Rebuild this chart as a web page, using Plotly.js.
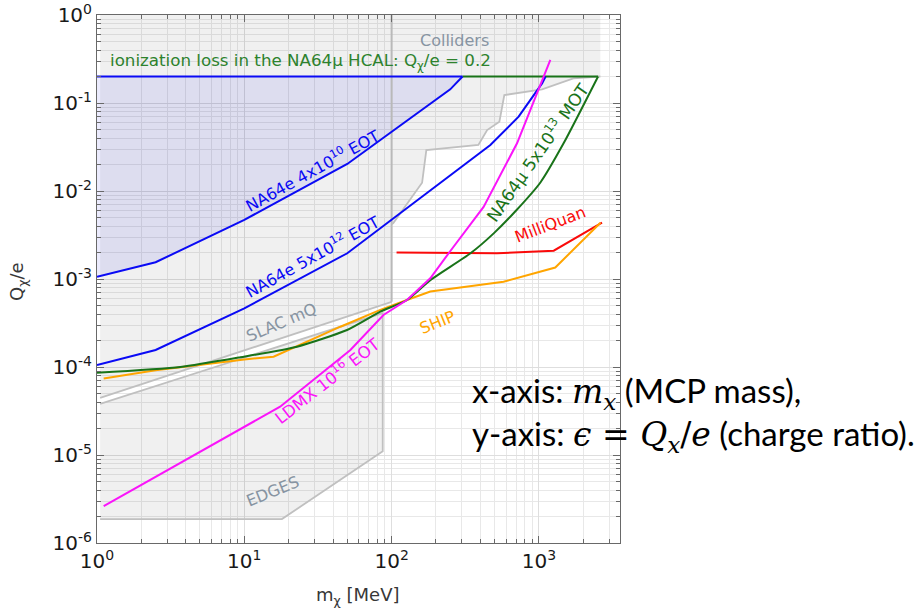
<!DOCTYPE html>
<html><head><meta charset="utf-8">
<script src="https://cdn.plot.ly/plotly-3.0.1.min.js"></script>
<style>html,body{margin:0;padding:0;background:#fff;}#chart{width:922px;height:611px;}</style>
</head><body><div id="chart"></div>
<script>
// ---------- data ----------
// NA64e 4x10^10 EOT
const massNA64e4 = [1, 2.5, 10, 50, 250, 303];
const qNA64e4    = [1.06e-3, 1.55e-3, 4.7e-3, 0.0203, 0.143, 0.2];
// NA64e 5x10^12 EOT
const massNA64e5 = [1, 2.5, 10, 50, 468, 728, 1050, 1110];
const qNA64e5    = [1.05e-4, 1.56e-4, 4.64e-4, 1.96e-3, 0.0333, 0.07, 0.167, 0.2];
// NA64mu 5x10^13 MOT
const massNA64mu = [1, 3.68, 9.4, 22.8, 49.8, 83.8, 127, 183, 343, 493, 700, 1023, 1470, 2520];
const qNA64mu    = [8.6e-5, 1.0e-4, 1.29e-4, 1.70e-4, 2.63e-4, 4.25e-4, 5.77e-4, 9.7e-4, 1.96e-3, 3.3e-3, 6.0e-3, 0.0125, 0.0348, 0.2];
// LDMX 10^16 EOT
const massLDMX = [1.11, 6.7, 17.5, 52.5, 88, 127, 183, 246, 421, 710, 970, 1195];
const qLDMX    = [2.63e-6, 1.42e-5, 3.54e-5, 1.56e-4, 3.9e-4, 5.77e-4, 1.02e-3, 2.0e-3, 6.6e-3, 0.0348, 0.129, 0.31];
// MilliQuan
const massMQ = [108, 519, 1260, 2680];
const qMQ    = [2.0e-3, 1.96e-3, 2.1e-3, 4.36e-3];
// SHIP
const massSHIP = [1.11, 2.5, 10, 15.8, 44.9, 83.8, 127, 183, 575, 1291, 2617];
const qSHIP    = [7.4e-5, 9.2e-5, 1.22e-4, 1.31e-4, 2.87e-4, 4.45e-4, 5.77e-4, 7.2e-4, 9.3e-4, 1.35e-3, 4.36e-3];
// ionization-loss level
const qIon = 0.2;
const massIonStart = 1, massIonEnd = 2520;
// SLAC mQ band edges
const massSlacUp = [1.05, 100];   const qSlacUp = [4.45e-5, 5.5e-4];
const massSlacLo = [1.05, 87];    const qSlacLo = [3.8e-5, 4.1e-4];
// EDGES lower boundary (continuing from SLAC lower edge end)
const massEdges = [87, 87, 18, 1.05];
const qEdges    = [4.1e-4, 1.1e-5, 1.87e-6, 1.87e-6];
// Colliders lower boundary
const massColl = [100, 102.7, 161, 172, 388, 445, 539, 582, 1050, 1713, 2612];
const qColl    = [4.2e-3, 4.33e-3, 0.0124, 0.0292, 0.0333, 0.0493, 0.0613, 0.123, 0.143, 0.19, 0.2];
const qTop = 1;
// axis ticks
const xTickVals = [1, 10, 100, 1000];
const xTickText = ['10<sup>0</sup>','10<sup>1</sup>','10<sup>2</sup>','10<sup>3</sup>'];
const yTickVals = [1e-6, 1e-5, 1e-4, 1e-3, 1e-2, 1e-1, 1];
const yTickText = ['10<sup>-6</sup>','10<sup>-5</sup>','10<sup>-4</sup>','10<sup>-3</sup>','10<sup>-2</sup>','10<sup>-1</sup>','10<sup>0</sup>'];

function minorVals(lo, hi){ const v=[]; for(let e=lo;e<=hi;e++){ for(let m=2;m<=9;m++) v.push(m*Math.pow(10,e)); } return v; }

// ---------- styles ----------
const GRAYFILL = 'rgba(0,0,0,0.06)';
const GRAYLINE = 'rgb(192,192,192)';
const BLUE = 'rgb(10,10,245)';
const GREEN = 'rgb(25,115,25)';
const GREENTXT = 'rgb(45,130,45)';
const MAG = 'rgb(250,20,250)';
const RED = 'rgb(250,10,10)';
const ORANGE = 'rgb(255,165,0)';
const SLATE = 'rgb(135,148,162)';

const traces = [];
const noLine = {width:0,color:'rgba(0,0,0,0)'};
traces.push({x: massSlacUp.concat([massSlacUp[1], massSlacUp[0]]), y: qSlacUp.concat([qTop, qTop]),
  fill:'toself', fillcolor:GRAYFILL, mode:'lines', line:noLine, hoverinfo:'skip'});
traces.push({x: massColl.concat([massColl[massColl.length-1], massColl[0]]), y: qColl.concat([qTop, qTop]),
  fill:'toself', fillcolor:GRAYFILL, mode:'lines', line:noLine, hoverinfo:'skip'});
traces.push({x: massSlacLo.concat(massEdges.slice(1)), y: qSlacLo.concat(qEdges.slice(1)),
  fill:'toself', fillcolor:GRAYFILL, mode:'lines', line:noLine, hoverinfo:'skip'});
traces.push({x: massNA64e4.concat([massIonStart]), y: qNA64e4.concat([qIon]),
  fill:'toself', fillcolor:'rgba(20,20,230,0.085)', mode:'lines', line:noLine, hoverinfo:'skip'});

traces.push({x: massSlacUp, y: qSlacUp, mode:'lines', line:{color:GRAYLINE, width:1.8}, hoverinfo:'skip'});
traces.push({x: massSlacLo.concat(massEdges.slice(1)), y: qSlacLo.concat(qEdges.slice(1)), mode:'lines', line:{color:GRAYLINE, width:1.8}, hoverinfo:'skip'});
traces.push({x: [massSlacUp[1], massSlacUp[1]], y: [qSlacUp[1], qTop], mode:'lines', line:{color:'rgb(185,185,185)', width:2}, hoverinfo:'skip'});
traces.push({x: massColl, y: qColl, mode:'lines', line:{color:GRAYLINE, width:1.8}, hoverinfo:'skip'});

traces.push({x: [massIonStart, massNA64e4[massNA64e4.length-1]], y: [qIon, qIon], mode:'lines', line:{color:BLUE, width:2}, hoverinfo:'skip'});
traces.push({x: [massNA64e4[massNA64e4.length-1], massIonEnd], y: [qIon, qIon], mode:'lines', line:{color:GREEN, width:2}, hoverinfo:'skip'});

traces.push({x: massNA64e4, y: qNA64e4, mode:'lines', line:{color:BLUE, width:2}, hoverinfo:'skip'});
traces.push({x: massNA64e5, y: qNA64e5, mode:'lines', line:{color:BLUE, width:2}, hoverinfo:'skip'});
traces.push({x: massMQ, y: qMQ, mode:'lines', line:{color:RED, width:2}, hoverinfo:'skip'});
traces.push({x: massSHIP, y: qSHIP, mode:'lines', line:{color:ORANGE, width:2}, hoverinfo:'skip'});
traces.push({x: massNA64mu, y: qNA64mu, mode:'lines', line:{color:GREEN, width:2, shape:'spline', smoothing:0.6}, hoverinfo:'skip'});
traces.push({x: massLDMX, y: qLDMX, mode:'lines', line:{color:MAG, width:2}, hoverinfo:'skip'});

// ---------- layout ----------
const L=97, R=620, T=15, B=543, W=R-L, H=B-T;
function ann(px, py, text, color, size, angle, extra){
  return Object.assign({xref:'paper', yref:'paper', x:(px-L)/W, y:(B-py)/H, text:text, showarrow:false,
    textangle:angle||0, xanchor:'center', yanchor:'middle', font:{family:'DejaVu Sans', size:size, color:color}}, extra||{});
}
const FS = 16;
const annotations = [
  ann(108, 62, 'ionization loss in the NA64μ HCAL: Q<sub>χ</sub>/e = 0.2', GREENTXT, 16.7, 0, {xanchor:'left'}),
  ann(454, 41, 'Colliders', SLATE, 16, 0),
  ann(312, 170, 'NA64e 4x10<sup>10</sup> EOT', BLUE, FS, -29),
  ann(312, 256, 'NA64e 5x10<sup>12</sup> EOT', BLUE, FS, -29),
  ann(281, 322, 'SLAC mQ', SLATE, FS, -23),
  ann(327, 380, 'LDMX 10<sup>16</sup> EOT', MAG, 16.5, -38),
  ann(272, 491, 'EDGES', SLATE, FS, -22),
  ann(437, 322, 'SHIP', ORANGE, FS, -22),
  ann(550, 224, 'MilliQuan', RED, FS, -21),
  ann(537, 152, 'NA64μ 5x10<sup>13</sup> MOT', GREEN, 17, -55),
  ann(358, 596, 'm<sub>χ</sub> [MeV]', 'rgb(55,55,55)', 18, 0),
  ann(18, 282, 'Q<sub>χ</sub>/e', 'rgb(55,55,55)', 18, -90),
  {xref:'paper', yref:'paper', x:(470-L)/W, y:(B-393)/H, xanchor:'left', yanchor:'middle', showarrow:false,
   text:'x-axis: <span style="font-family:\'DejaVu Serif\'"><i>m<sub>x</sub></i></span> (MCP mass),',
   font:{family:'Lato', size:33, color:'#000'}},
  {xref:'paper', yref:'paper', x:(470-L)/W, y:(B-435)/H, xanchor:'left', yanchor:'middle', showarrow:false,
   text:'y-axis: <span style="font-family:\'DejaVu Serif\'"><i>ϵ</i> = <i>Q<sub>x</sub></i>/<i>e</i></span> (charge ratio).',
   font:{family:'Lato', size:33, color:'#000'}}
];

const axisCommon = {
  type:'log', showline:true, linecolor:'rgb(105,105,105)', linewidth:1, mirror:'ticks',
  ticks:'inside', ticklen:7, tickwidth:1, tickcolor:'rgb(105,105,105)',
  showgrid:true, gridcolor:'rgb(222,222,222)', gridwidth:1, zeroline:false,
  tickmode:'array', tickfont:{family:'DejaVu Sans', size:20, color:'rgb(25,25,25)'}
};

const layout = {
  width:922, height:611, margin:{l:L, r:922-R, t:T, b:611-B},
  paper_bgcolor:'#fff', plot_bgcolor:'#fff', showlegend:false,
  font:{family:'DejaVu Sans'},
  xaxis: Object.assign({}, axisCommon, {range:[0, Math.log10(3550)], tickvals:xTickVals, ticktext:xTickText,
    minor:{tickmode:'array', tickvals:minorVals(0,3), ticks:'inside', ticklen:4, tickcolor:'rgb(105,105,105)', showgrid:true, gridcolor:'rgb(232,232,232)'}}),
  yaxis: Object.assign({}, axisCommon, {range:[-6, 0], tickvals:yTickVals, ticktext:yTickText,
    minor:{tickmode:'array', tickvals:minorVals(-6,-1), ticks:'inside', ticklen:4, tickcolor:'rgb(105,105,105)', showgrid:true, gridcolor:'rgb(232,232,232)'}}),
  annotations: annotations
};

Plotly.newPlot('chart', traces, layout, {staticPlot:true, displayModeBar:false});
</script></body></html>
